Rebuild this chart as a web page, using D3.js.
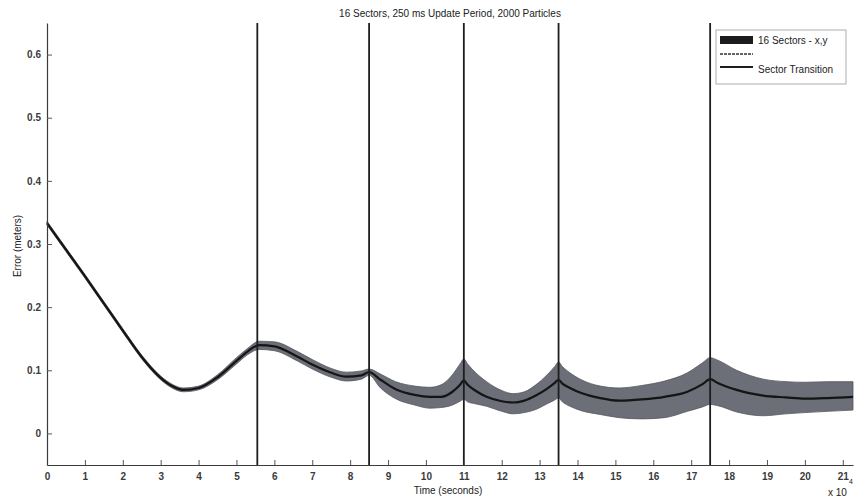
<!DOCTYPE html>
<html lang="en">
<head>
    <meta charset="UTF-8">
    <title>sector-error</title>
    <style>
        body {
            margin: 0;
            background: #fff;
            font-family: "Liberation Sans", Arial, sans-serif;
        }
        text { font-family: "Liberation Sans", Arial, sans-serif; }
    </style>
    <script src="https://d3js.org/d3.v7.min.js"></script>
</head>
<body>

<script>

    // time in units of 10^4 seconds
    let time = [0, 0.5, 1, 1.5, 2, 2.5, 3, 3.3, 3.6, 4, 4.5, 5, 5.3, 5.6, 6.0, 6.6, 7.0, 7.5, 7.9, 8.3, 8.5,
        8.8, 9.2, 9.7, 10.1, 10.4, 10.7, 10.9, 11.0, 11.1, 11.3, 11.6, 12.0, 12.3, 12.6, 12.9, 13.2, 13.4, 13.5,
        13.6, 13.8, 14.1, 14.6, 15.1, 15.7, 16.3, 16.9, 17.3, 17.5, 17.7, 18.2, 18.9, 19.5, 20.0, 20.6, 21.27]
    let meanErr = [0.333, 0.291, 0.249, 0.206, 0.163, 0.121, 0.088, 0.075, 0.069, 0.072, 0.089, 0.115, 0.130, 0.140, 0.138, 0.122, 0.109, 0.096, 0.090, 0.092, 0.097,
        0.085, 0.070, 0.061, 0.058, 0.058, 0.066, 0.077, 0.084, 0.077, 0.068, 0.058, 0.051, 0.049, 0.052, 0.060, 0.071, 0.080, 0.085,
        0.079, 0.072, 0.064, 0.056, 0.052, 0.054, 0.058, 0.066, 0.078, 0.086, 0.080, 0.069, 0.060, 0.057, 0.055, 0.056, 0.058]
    let upperErr = [0.336, 0.294, 0.252, 0.209, 0.166, 0.124, 0.091, 0.078, 0.072, 0.075, 0.093, 0.120, 0.135, 0.146, 0.145, 0.130, 0.117, 0.103, 0.097, 0.099, 0.102,
        0.094, 0.082, 0.075, 0.073, 0.077, 0.093, 0.110, 0.118, 0.110, 0.097, 0.082, 0.068, 0.063, 0.066, 0.077, 0.093, 0.106, 0.113,
        0.106, 0.096, 0.085, 0.075, 0.072, 0.076, 0.083, 0.096, 0.112, 0.120, 0.116, 0.100, 0.086, 0.082, 0.081, 0.082, 0.082]
    let lowerErr = [0.330, 0.288, 0.246, 0.203, 0.160, 0.118, 0.085, 0.072, 0.066, 0.069, 0.085, 0.110, 0.125, 0.133, 0.131, 0.115, 0.102, 0.089, 0.083, 0.086, 0.092,
        0.072, 0.055, 0.045, 0.040, 0.041, 0.045, 0.051, 0.054, 0.050, 0.047, 0.043, 0.035, 0.031, 0.033, 0.038, 0.047, 0.053, 0.056,
        0.050, 0.043, 0.036, 0.030, 0.025, 0.023, 0.025, 0.035, 0.042, 0.046, 0.044, 0.034, 0.028, 0.031, 0.033, 0.035, 0.037]

    let transitions = [5.55, 8.5, 11, 13.5, 17.5]
    let xTicks = d3.range(0, 22)
    let yTicks = [0, 0.1, 0.2, 0.3, 0.4, 0.5, 0.6]
    let legendLabels = ["16 Sectors - x,y", "", "Sector Transition"]

    let width = 855
    let height = 504
    let margin = {top: 23, right: 2, bottom: 39, left: 47}

    let svg = d3.select("body").append("svg")
        .attr("width", width).attr("height", height)

    let x = d3.scaleLinear().domain([0, 21.27]).range([margin.left, width - margin.right])
    let y = d3.scaleLinear().domain([-0.05, 0.65]).range([height - margin.bottom, margin.top])

    let rows = time.map((t, i) => ({t: t, m: meanErr[i], lo: lowerErr[i], hi: upperErr[i]}))

    // shaded band
    svg.append("path")
        .datum(rows)
        .attr("d", d3.area().curve(d3.curveMonotoneX)
            .x(d => x(d.t)).y0(d => y(d.lo)).y1(d => y(d.hi)))
        .attr("fill", "#6c6e78")
        .attr("stroke", "#55575f")
        .attr("stroke-width", 0.8)

    // mean line
    svg.append("path")
        .datum(rows)
        .attr("d", d3.line().curve(d3.curveMonotoneX).x(d => x(d.t)).y(d => y(d.m)))
        .attr("fill", "none")
        .attr("stroke", "#151515")
        .attr("stroke-width", 2.2)

    // sector transitions
    svg.append("g").selectAll("line")
        .data(transitions)
        .enter().append("line")
        .attr("x1", d => x(d)).attr("x2", d => x(d))
        .attr("y1", margin.top).attr("y2", height - margin.bottom)
        .attr("stroke", "#1e1e1e")
        .attr("stroke-width", 1.8)

    // axes
    let xAxis = svg.append("g")
        .attr("transform", "translate(0," + (height - margin.bottom) + ")")
        .call(d3.axisBottom(x).tickValues(xTicks).tickFormat(d3.format("d")).tickSizeInner(-5).tickSizeOuter(0).tickPadding(8))
    let yAxis = svg.append("g")
        .attr("transform", "translate(" + margin.left + ",0)")
        .call(d3.axisLeft(y).tickValues(yTicks).tickFormat(d => d === 0 ? "0" : d3.format(".1f")(d)).tickSizeInner(-5).tickSizeOuter(0).tickPadding(6))

    for (let ax of [xAxis, yAxis]) {
        ax.select(".domain").attr("stroke", "#3a3a3a").attr("stroke-width", 1.2)
        ax.selectAll(".tick line").attr("stroke", "#555")
        ax.selectAll(".tick text").attr("fill", "#3a3a3a").style("font-size", "10px").style("font-weight", "bold")
    }

    // title and labels
    svg.append("text")
        .attr("x", (margin.left + width - margin.right) / 2).attr("y", 17)
        .attr("text-anchor", "middle")
        .style("font-size", "10px").attr("fill", "#222")
        .text("16 Sectors, 250 ms Update Period, 2000 Particles")

    svg.append("text")
        .attr("x", 448).attr("y", 494)
        .attr("text-anchor", "middle")
        .style("font-size", "10px").attr("fill", "#222")
        .text("Time (seconds)")

    svg.append("text")
        .attr("transform", "translate(21,246) rotate(-90)")
        .attr("text-anchor", "middle")
        .style("font-size", "10px").attr("fill", "#222")
        .text("Error (meters)")

    svg.append("text")
        .attr("x", 828).attr("y", 496)
        .style("font-size", "10px").attr("fill", "#222")
        .text("x 10")
    svg.append("text")
        .attr("x", 849).attr("y", 484)
        .style("font-size", "7px").attr("fill", "#222")
        .text("4")

    // legend
    let lg = svg.append("g").attr("transform", "translate(716,30)")
    lg.append("rect")
        .attr("width", 130).attr("height", 54)
        .attr("fill", "#fff").attr("stroke", "#999").attr("stroke-width", 0.8)
    lg.append("rect")
        .attr("x", 4).attr("y", 6).attr("width", 33).attr("height", 8)
        .attr("fill", "#1c1c1e")
    lg.append("line")
        .attr("x1", 4).attr("x2", 37).attr("y1", 24).attr("y2", 24)
        .attr("stroke", "#333").attr("stroke-width", 1.4).attr("stroke-dasharray", "3,1")
    lg.append("line")
        .attr("x1", 4).attr("x2", 37).attr("y1", 37).attr("y2", 37)
        .attr("stroke", "#1e1e1e").attr("stroke-width", 1.8)
    lg.selectAll("text.lab")
        .data(legendLabels)
        .enter().append("text")
        .attr("class", "lab")
        .attr("x", 42).attr("y", (d, i) => 14 + i * 14.5)
        .style("font-size", "10px").attr("fill", "#222")
        .text(d => d)

</script>

</body>
</html>
